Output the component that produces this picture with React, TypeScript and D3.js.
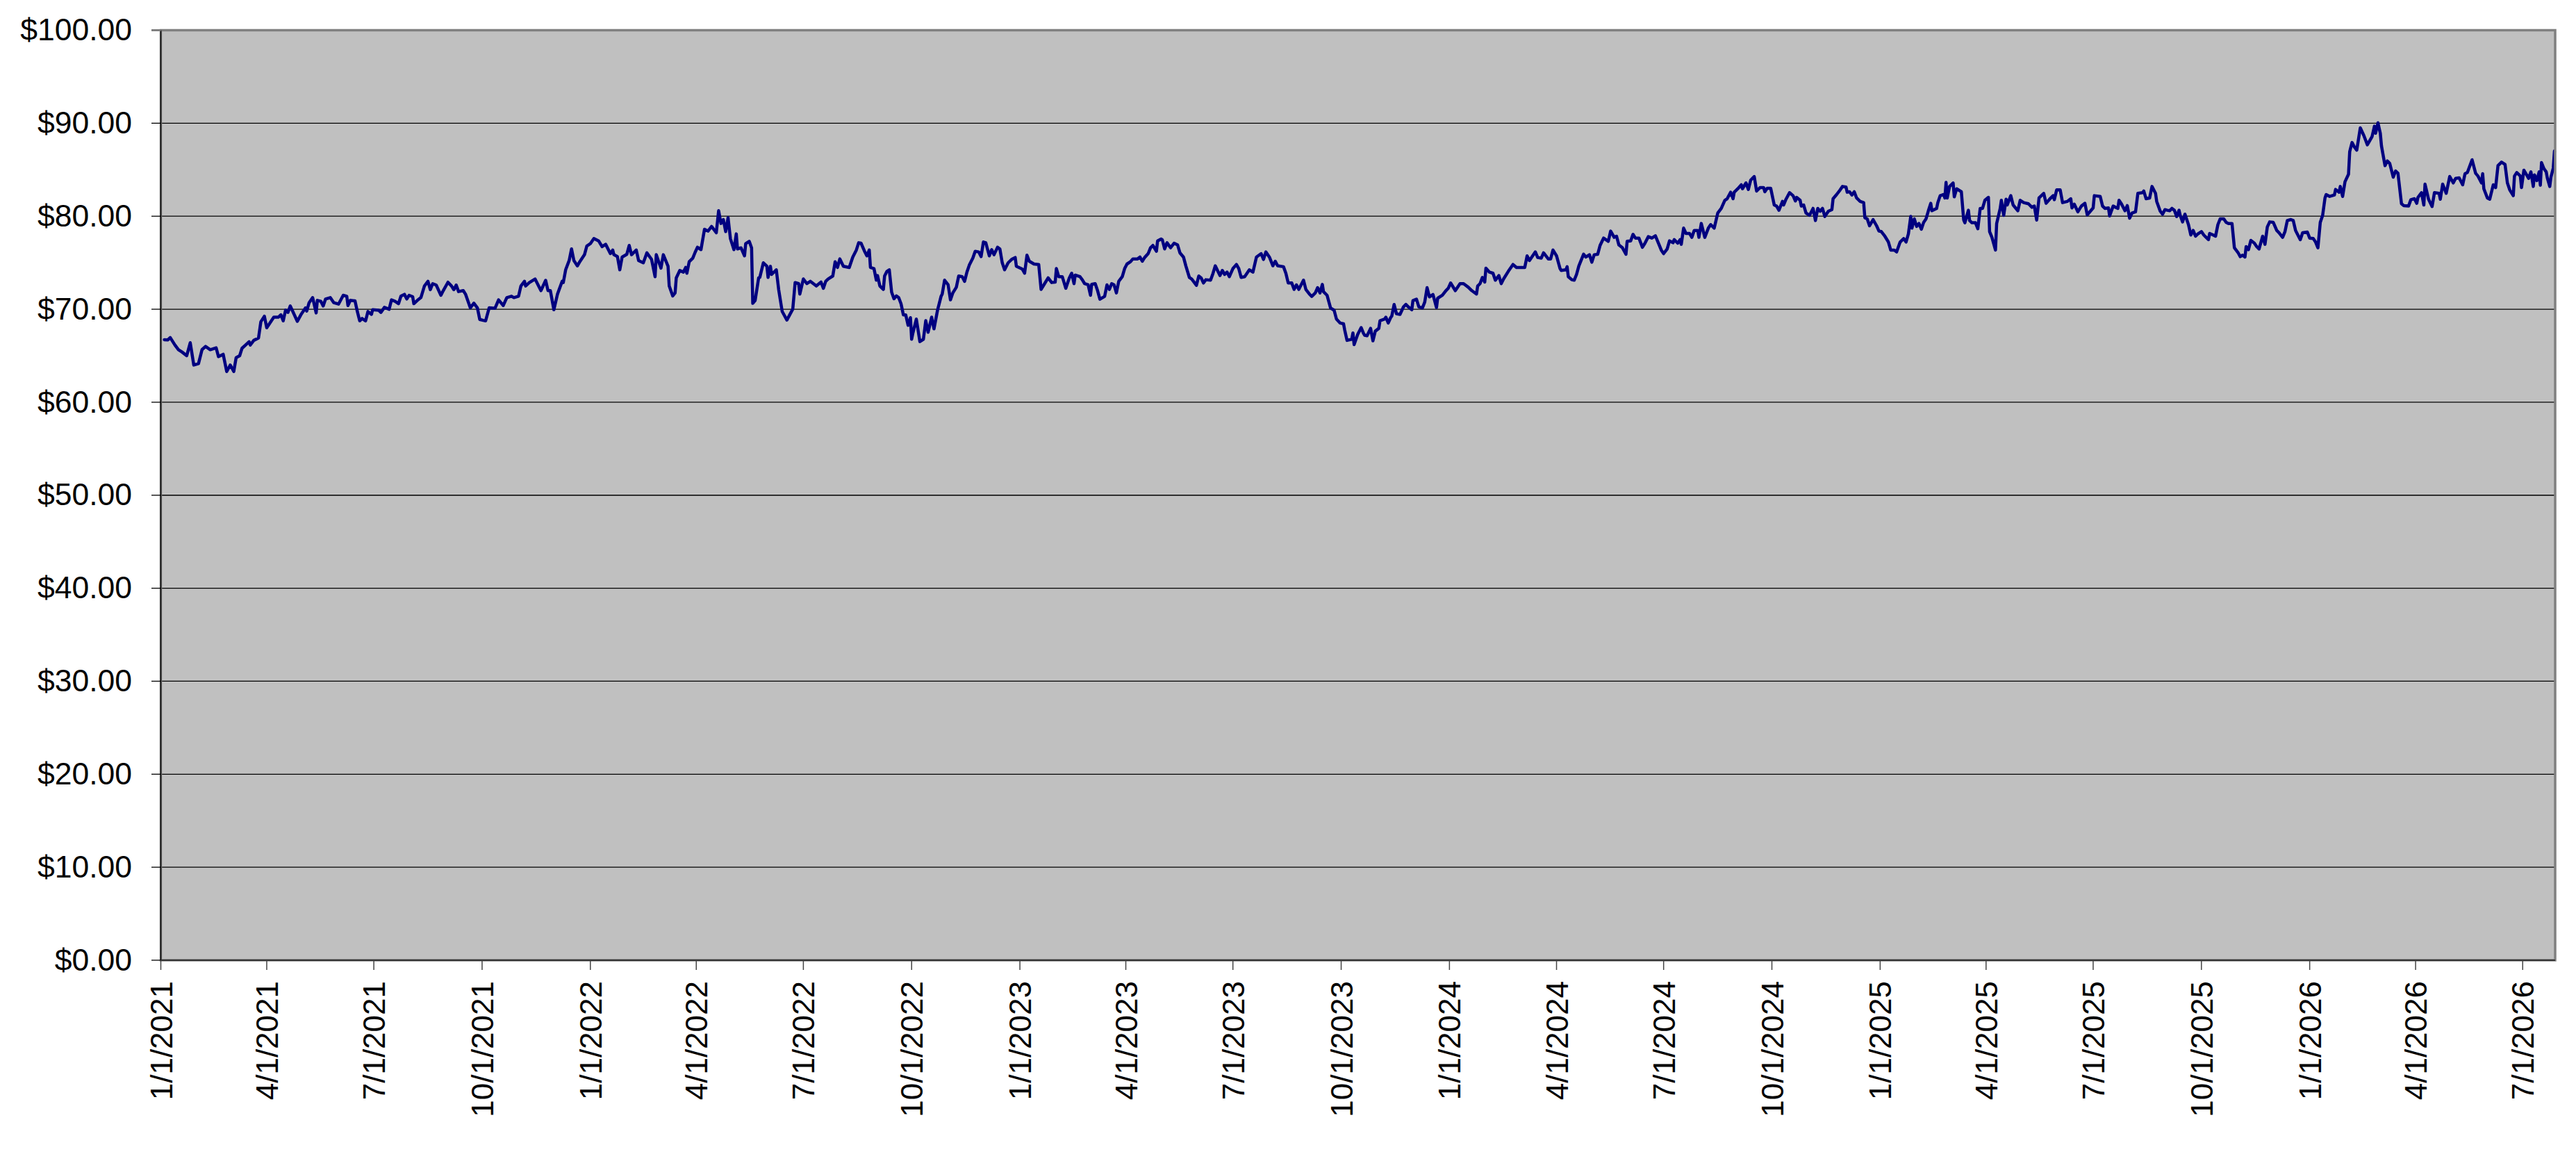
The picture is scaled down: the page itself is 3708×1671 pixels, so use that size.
import React from "react";
import * as d3 from "d3";

// ---------- data ----------
const yTickValues = [0, 10, 20, 30, 40, 50, 60, 70, 80, 90, 100];
const xTickLabels = [
  "1/1/2021", "4/1/2021", "7/1/2021", "10/1/2021",
  "1/1/2022", "4/1/2022", "7/1/2022", "10/1/2022",
  "1/1/2023", "4/1/2023", "7/1/2023", "10/1/2023",
  "1/1/2024", "4/1/2024", "7/1/2024", "10/1/2024",
  "1/1/2025", "4/1/2025", "7/1/2025", "10/1/2025",
  "1/1/2026", "4/1/2026", "7/1/2026",
];
const axisStart = "1/1/2021";
const axisEnd = "7/28/2026";

const prices2021: [string, number][] = [
  ["2021-01-04", 66.72], ["2021-01-07", 66.7], ["2021-01-09", 66.95], ["2021-01-13", 66.15], ["2021-01-16", 65.65],
  ["2021-01-19", 65.4], ["2021-01-23", 65.0], ["2021-01-26", 66.4], ["2021-01-29", 64.0], ["2021-02-02", 64.15],
  ["2021-02-05", 65.65], ["2021-02-08", 66.0], ["2021-02-12", 65.65], ["2021-02-17", 65.85], ["2021-02-19", 64.9],
  ["2021-02-23", 65.15], ["2021-02-26", 63.3], ["2021-03-01", 64.0], ["2021-03-04", 63.3], ["2021-03-06", 64.8],
  ["2021-03-09", 65.0], ["2021-03-11", 65.8], ["2021-03-14", 66.15], ["2021-03-17", 66.5], ["2021-03-18", 66.15],
  ["2021-03-21", 66.65], ["2021-03-25", 66.9], ["2021-03-27", 68.65], ["2021-03-30", 69.25], ["2021-04-01", 68.0],
  ["2021-04-07", 69.15], ["2021-04-11", 69.15], ["2021-04-13", 69.4], ["2021-04-15", 68.75], ["2021-04-17", 69.9],
  ["2021-04-19", 69.65], ["2021-04-21", 70.35], ["2021-04-27", 68.7], ["2021-04-30", 69.4], ["2021-05-04", 70.15],
  ["2021-05-05", 69.8], ["2021-05-07", 70.7], ["2021-05-10", 71.25], ["2021-05-13", 69.6], ["2021-05-14", 70.95],
  ["2021-05-17", 70.85], ["2021-05-19", 70.35], ["2021-05-21", 71.1], ["2021-05-25", 71.25], ["2021-05-28", 70.7],
  ["2021-06-01", 70.55], ["2021-06-05", 71.5], ["2021-06-08", 71.4], ["2021-06-09", 70.4], ["2021-06-11", 70.95],
  ["2021-06-15", 70.9], ["2021-06-17", 69.75], ["2021-06-19", 68.75], ["2021-06-21", 69.0], ["2021-06-24", 68.75],
  ["2021-06-26", 69.75], ["2021-06-29", 69.45], ["2021-06-30", 69.95], ["2021-07-05", 69.9], ["2021-07-07", 69.65],
  ["2021-07-10", 70.2], ["2021-07-14", 70.0], ["2021-07-16", 71.0], ["2021-07-19", 70.85], ["2021-07-22", 70.6],
  ["2021-07-24", 71.4], ["2021-07-27", 71.6], ["2021-07-29", 71.1], ["2021-07-31", 71.5], ["2021-08-03", 71.35],
  ["2021-08-04", 70.6], ["2021-08-07", 70.95], ["2021-08-10", 71.25], ["2021-08-13", 72.5], ["2021-08-16", 73.0],
  ["2021-08-18", 72.1], ["2021-08-20", 72.75], ["2021-08-23", 72.6], ["2021-08-27", 71.5], ["2021-08-29", 72.0],
  ["2021-09-02", 72.9], ["2021-09-05", 72.5], ["2021-09-07", 72.1], ["2021-09-09", 72.6], ["2021-09-11", 71.9],
  ["2021-09-15", 72.0], ["2021-09-17", 71.6], ["2021-09-21", 70.15], ["2021-09-24", 70.65], ["2021-09-27", 70.15],
  ["2021-09-29", 68.9], ["2021-10-02", 68.8], ["2021-10-04", 68.75], ["2021-10-07", 70.15], ["2021-10-12", 70.1],
  ["2021-10-15", 71.0], ["2021-10-19", 70.4], ["2021-10-22", 71.25], ["2021-10-26", 71.4], ["2021-10-28", 71.25],
  ["2021-11-01", 71.4], ["2021-11-03", 72.5], ["2021-11-06", 73.0], ["2021-11-07", 72.5], ["2021-11-10", 72.85],
  ["2021-11-15", 73.25], ["2021-11-20", 72.0], ["2021-11-24", 73.1], ["2021-11-26", 72.0], ["2021-11-28", 72.0],
  ["2021-12-01", 69.95], ["2021-12-04", 71.6], ["2021-12-08", 73.0], ["2021-12-09", 72.87], ["2021-12-11", 74.24],
  ["2021-12-14", 75.24], ["2021-12-16", 76.48], ["2021-12-18", 75.24], ["2021-12-21", 74.66], ["2021-12-23", 75.11],
  ["2021-12-27", 75.86], ["2021-12-29", 76.8],
];

const prices2022: [string, number][] = [
  ["2022-01-01", 77.05], ["2022-01-04", 77.6], ["2022-01-08", 77.35], ["2022-01-11", 76.73], ["2022-01-14", 76.98],
  ["2022-01-18", 75.98], ["2022-01-20", 76.36], ["2022-01-21", 75.86], ["2022-01-24", 75.66], ["2022-01-26", 74.24],
  ["2022-01-28", 75.61], ["2022-02-01", 75.91], ["2022-02-03", 76.86], ["2022-02-05", 75.86], ["2022-02-09", 76.36],
  ["2022-02-11", 75.24], ["2022-02-15", 74.99], ["2022-02-18", 76.06], ["2022-02-22", 75.36], ["2022-02-25", 73.5],
  ["2022-02-26", 75.86], ["2022-03-02", 74.42], ["2022-03-04", 75.86], ["2022-03-08", 74.62], ["2022-03-09", 72.5],
  ["2022-03-12", 71.43], ["2022-03-14", 71.75], ["2022-03-15", 73.37], ["2022-03-18", 74.17], ["2022-03-21", 73.99],
  ["2022-03-23", 74.49], ["2022-03-24", 73.87], ["2022-03-26", 75.11], ["2022-03-29", 75.49], ["2022-03-31", 76.11],
  ["2022-04-02", 76.66], ["2022-04-05", 76.41], ["2022-04-08", 78.6], ["2022-04-11", 78.4], ["2022-04-14", 78.9],
  ["2022-04-18", 78.22], ["2022-04-20", 80.59], ["2022-04-22", 79.22], ["2022-04-24", 79.64], ["2022-04-26", 78.35],
  ["2022-04-28", 79.84], ["2022-04-30", 77.6], ["2022-05-03", 76.41], ["2022-05-05", 78.1], ["2022-05-06", 76.48],
  ["2022-05-09", 76.6], ["2022-05-12", 75.74], ["2022-05-13", 77.06], ["2022-05-16", 77.3], ["2022-05-18", 76.6],
  ["2022-05-19", 70.63], ["2022-05-21", 70.93], ["2022-05-24", 73.37], ["2022-05-25", 73.42], ["2022-05-28", 74.99],
  ["2022-05-31", 74.62], ["2022-06-01", 73.42], ["2022-06-03", 74.62], ["2022-06-04", 73.74], ["2022-06-08", 74.24],
  ["2022-06-10", 72.13], ["2022-06-13", 69.76], ["2022-06-17", 68.84], ["2022-06-22", 70.01], ["2022-06-24", 72.87],
  ["2022-06-27", 72.75], ["2022-06-28", 71.63], ["2022-07-01", 73.25], ["2022-07-04", 72.75], ["2022-07-07", 73.0],
  ["2022-07-12", 72.5], ["2022-07-16", 72.92], ["2022-07-18", 72.25], ["2022-07-20", 73.0], ["2022-07-22", 73.25],
  ["2022-07-26", 73.57], ["2022-07-28", 75.11], ["2022-07-30", 74.49], ["2022-08-01", 75.41], ["2022-08-04", 74.62],
  ["2022-08-09", 74.49], ["2022-08-12", 75.61], ["2022-08-15", 76.36], ["2022-08-17", 77.15], ["2022-08-19", 77.1],
  ["2022-08-22", 76.23], ["2022-08-24", 75.74], ["2022-08-26", 76.36], ["2022-08-27", 74.49], ["2022-08-30", 74.37],
  ["2022-09-01", 73.12], ["2022-09-02", 73.62], ["2022-09-04", 72.5], ["2022-09-07", 72.13], ["2022-09-08", 73.57],
  ["2022-09-10", 74.07], ["2022-09-12", 74.24], ["2022-09-14", 71.83], ["2022-09-16", 71.13], ["2022-09-18", 71.43],
  ["2022-09-20", 71.25], ["2022-09-22", 70.58], ["2022-09-24", 69.39], ["2022-09-26", 69.39], ["2022-09-28", 68.27],
  ["2022-09-30", 69.09], ["2022-10-01", 66.77], ["2022-10-02", 67.4], ["2022-10-05", 68.94], ["2022-10-08", 66.52],
  ["2022-10-11", 66.77], ["2022-10-13", 68.77], ["2022-10-15", 67.52], ["2022-10-18", 69.14], ["2022-10-20", 67.89],
  ["2022-10-23", 69.89], ["2022-10-26", 71.38], ["2022-10-27", 71.63], ["2022-10-29", 73.12], ["2022-11-01", 72.62],
  ["2022-11-03", 71.01], ["2022-11-05", 71.75], ["2022-11-08", 72.37], ["2022-11-10", 73.57], ["2022-11-13", 73.5],
  ["2022-11-15", 73.0], ["2022-11-17", 74.0], ["2022-11-19", 74.74], ["2022-11-22", 75.49], ["2022-11-24", 76.23],
  ["2022-11-27", 76.16], ["2022-11-29", 75.66], ["2022-12-01", 77.23], ["2022-12-03", 77.15], ["2022-12-06", 75.74],
  ["2022-12-08", 76.41], ["2022-12-10", 75.86], ["2022-12-13", 76.66], ["2022-12-15", 76.48], ["2022-12-17", 74.99],
  ["2022-12-19", 74.24], ["2022-12-22", 74.99], ["2022-12-25", 75.36], ["2022-12-28", 75.56], ["2022-12-29", 74.62],
];

const prices2023: [string, number][] = [
  ["2023-01-03", 74.32], ["2023-01-05", 73.87], ["2023-01-07", 75.81], ["2023-01-09", 75.16], ["2023-01-13", 74.86],
  ["2023-01-17", 74.81], ["2023-01-19", 72.13], ["2023-01-22", 72.75], ["2023-01-25", 73.37], ["2023-01-28", 72.87],
  ["2023-01-31", 72.92], ["2023-02-01", 74.37], ["2023-02-03", 73.5], ["2023-02-06", 73.5], ["2023-02-09", 72.25],
  ["2023-02-12", 73.37], ["2023-02-14", 73.87], ["2023-02-16", 72.75], ["2023-02-17", 73.67], ["2023-02-21", 73.5],
  ["2023-02-23", 73.17], ["2023-02-25", 72.75], ["2023-02-28", 72.62], ["2023-03-02", 71.5], ["2023-03-03", 72.67],
  ["2023-03-06", 72.75], ["2023-03-08", 72.0], ["2023-03-10", 71.08], ["2023-03-14", 71.38], ["2023-03-16", 72.62],
  ["2023-03-18", 72.13], ["2023-03-20", 72.75], ["2023-03-22", 72.62], ["2023-03-24", 71.75], ["2023-03-26", 73.0],
  ["2023-03-29", 73.5], ["2023-03-31", 74.37], ["2023-04-02", 74.86], ["2023-04-05", 75.11], ["2023-04-07", 75.41],
  ["2023-04-11", 75.41], ["2023-04-13", 75.61], ["2023-04-15", 75.16], ["2023-04-17", 75.56], ["2023-04-20", 75.98],
  ["2023-04-22", 76.61], ["2023-04-24", 76.86], ["2023-04-27", 76.23], ["2023-04-28", 77.35], ["2023-05-01", 77.55],
  ["2023-05-02", 77.47], ["2023-05-04", 76.48], ["2023-05-06", 77.15], ["2023-05-09", 76.61], ["2023-05-12", 77.1],
  ["2023-05-15", 76.91], ["2023-05-17", 76.06], ["2023-05-20", 75.61], ["2023-05-22", 74.67], ["2023-05-25", 73.42],
  ["2023-05-27", 73.25], ["2023-05-31", 72.57], ["2023-06-02", 73.57], ["2023-06-04", 73.37], ["2023-06-06", 72.82],
  ["2023-06-08", 73.17], ["2023-06-12", 73.12], ["2023-06-14", 73.82], ["2023-06-16", 74.67], ["2023-06-20", 73.62],
  ["2023-06-22", 74.17], ["2023-06-24", 73.74], ["2023-06-26", 73.99], ["2023-06-28", 73.5], ["2023-07-01", 74.37],
  ["2023-07-04", 74.81], ["2023-07-06", 74.37], ["2023-07-08", 73.42], ["2023-07-11", 73.5], ["2023-07-15", 74.24],
  ["2023-07-18", 73.99], ["2023-07-21", 75.61], ["2023-07-25", 75.98], ["2023-07-27", 75.36], ["2023-07-29", 76.16],
  ["2023-08-01", 75.61], ["2023-08-04", 74.67], ["2023-08-06", 75.16], ["2023-08-08", 74.67], ["2023-08-13", 74.57],
  ["2023-08-15", 73.87], ["2023-08-17", 72.82], ["2023-08-20", 72.82], ["2023-08-22", 72.13], ["2023-08-24", 72.62],
  ["2023-08-26", 72.13], ["2023-08-30", 73.12], ["2023-09-01", 72.13], ["2023-09-04", 71.63], ["2023-09-06", 71.38],
  ["2023-09-09", 71.75], ["2023-09-11", 72.32], ["2023-09-13", 71.75], ["2023-09-15", 72.67], ["2023-09-16", 71.88],
  ["2023-09-19", 71.5], ["2023-09-22", 70.13], ["2023-09-25", 69.89], ["2023-09-27", 68.94], ["2023-09-30", 68.52],
  ["2023-10-03", 68.44], ["2023-10-04", 67.77], ["2023-10-06", 66.65], ["2023-10-10", 66.77], ["2023-10-11", 67.45],
  ["2023-10-12", 66.2], ["2023-10-15", 67.27], ["2023-10-18", 68.02], ["2023-10-20", 67.4], ["2023-10-21", 67.2],
  ["2023-10-23", 67.15], ["2023-10-26", 67.94], ["2023-10-28", 66.6], ["2023-10-30", 67.64], ["2023-11-02", 67.94],
  ["2023-11-03", 68.77], ["2023-11-07", 68.94], ["2023-11-08", 69.14], ["2023-11-10", 68.52], ["2023-11-12", 69.09],
  ["2023-11-13", 69.26], ["2023-11-15", 70.51], ["2023-11-17", 69.51], ["2023-11-20", 69.44], ["2023-11-23", 70.26],
  ["2023-11-25", 70.51], ["2023-11-27", 70.26], ["2023-11-30", 69.94], ["2023-12-01", 70.93], ["2023-12-04", 71.08],
  ["2023-12-06", 70.26], ["2023-12-09", 70.13], ["2023-12-11", 70.76], ["2023-12-13", 72.32], ["2023-12-15", 71.33],
  ["2023-12-18", 71.58], ["2023-12-21", 70.18], ["2023-12-22", 71.18], ["2023-12-26", 71.5], ["2023-12-29", 72.0],
  ["2023-12-31", 72.25],
];

const prices2024: [string, number][] = [
  ["2024-01-02", 72.82], ["2024-01-06", 72.0], ["2024-01-10", 72.75], ["2024-01-13", 72.75], ["2024-01-17", 72.37],
  ["2024-01-20", 72.0], ["2024-01-24", 71.63], ["2024-01-25", 72.5], ["2024-01-27", 72.75], ["2024-01-29", 73.42],
  ["2024-01-31", 72.92], ["2024-02-01", 74.42], ["2024-02-04", 73.99], ["2024-02-07", 73.87], ["2024-02-09", 73.12],
  ["2024-02-12", 73.62], ["2024-02-14", 72.75], ["2024-02-16", 73.25], ["2024-02-20", 74.07], ["2024-02-24", 74.81],
  ["2024-02-27", 74.49], ["2024-03-05", 74.49], ["2024-03-07", 75.74], ["2024-03-09", 75.24], ["2024-03-14", 76.16],
  ["2024-03-16", 75.56], ["2024-03-19", 75.49], ["2024-03-21", 76.06], ["2024-03-25", 75.41], ["2024-03-27", 75.41],
  ["2024-03-29", 76.36], ["2024-04-01", 75.74], ["2024-04-04", 74.37], ["2024-04-05", 74.17], ["2024-04-09", 74.24],
  ["2024-04-10", 74.57], ["2024-04-11", 73.5], ["2024-04-14", 73.17], ["2024-04-16", 73.12], ["2024-04-18", 73.74],
  ["2024-04-20", 74.67], ["2024-04-24", 75.91], ["2024-04-26", 75.61], ["2024-04-29", 75.86], ["2024-05-01", 75.06],
  ["2024-05-03", 75.86], ["2024-05-06", 75.91], ["2024-05-08", 76.86], ["2024-05-11", 77.65], ["2024-05-15", 77.3],
  ["2024-05-17", 78.4], ["2024-05-20", 77.73], ["2024-05-22", 77.85], ["2024-05-24", 76.91], ["2024-05-27", 76.61],
  ["2024-05-30", 75.91], ["2024-05-31", 77.3], ["2024-06-03", 77.35], ["2024-06-05", 78.05], ["2024-06-07", 77.65],
  ["2024-06-10", 77.65], ["2024-06-13", 76.66], ["2024-06-15", 77.06], ["2024-06-18", 77.8], ["2024-06-21", 77.65],
  ["2024-06-24", 77.9], ["2024-06-27", 76.98], ["2024-06-29", 76.36], ["2024-07-01", 75.98], ["2024-07-04", 76.48],
  ["2024-07-06", 77.35], ["2024-07-09", 77.15], ["2024-07-10", 77.48], ["2024-07-13", 77.1], ["2024-07-15", 77.48],
  ["2024-07-16", 76.98], ["2024-07-18", 78.72], ["2024-07-20", 78.15], ["2024-07-23", 78.15], ["2024-07-25", 77.73],
  ["2024-07-27", 78.47], ["2024-07-30", 78.47], ["2024-07-31", 77.73], ["2024-08-02", 79.22], ["2024-08-05", 77.73],
  ["2024-08-08", 78.72], ["2024-08-10", 79.1], ["2024-08-13", 78.72], ["2024-08-16", 80.34], ["2024-08-19", 80.84],
  ["2024-08-22", 81.71], ["2024-08-24", 81.88], ["2024-08-27", 82.58], ["2024-08-29", 81.88], ["2024-08-30", 82.58],
  ["2024-09-02", 82.95], ["2024-09-05", 83.38], ["2024-09-06", 82.95], ["2024-09-09", 83.58], ["2024-09-11", 82.88],
  ["2024-09-13", 83.88], ["2024-09-16", 84.27], ["2024-09-18", 82.71], ["2024-09-21", 83.08], ["2024-09-24", 83.08],
  ["2024-09-25", 82.63], ["2024-09-27", 83.0], ["2024-09-30", 83.0], ["2024-10-03", 81.21], ["2024-10-05", 81.09],
  ["2024-10-07", 80.64], ["2024-10-10", 81.59], ["2024-10-11", 81.21], ["2024-10-13", 81.83], ["2024-10-16", 82.53],
  ["2024-10-19", 82.21], ["2024-10-21", 81.64], ["2024-10-22", 82.03], ["2024-10-25", 81.71], ["2024-10-26", 81.09],
  ["2024-10-28", 81.21], ["2024-10-30", 80.34], ["2024-11-02", 80.09], ["2024-11-05", 80.84], ["2024-11-07", 79.54],
  ["2024-11-09", 80.84], ["2024-11-11", 80.54], ["2024-11-13", 80.84], ["2024-11-15", 79.97], ["2024-11-18", 80.54],
  ["2024-11-21", 80.71], ["2024-11-22", 81.88], ["2024-11-25", 82.33], ["2024-11-28", 82.83], ["2024-11-30", 83.2],
  ["2024-12-03", 83.13], ["2024-12-04", 82.58], ["2024-12-06", 82.63], ["2024-12-08", 82.28], ["2024-12-10", 82.63],
  ["2024-12-12", 81.96], ["2024-12-15", 81.59], ["2024-12-18", 81.46], ["2024-12-19", 79.84], ["2024-12-21", 79.72],
  ["2024-12-23", 78.97], ["2024-12-26", 79.64], ["2024-12-29", 78.97], ["2024-12-31", 78.4],
];

const prices2025: [string, number][] = [
  ["2025-01-02", 78.35], ["2025-01-05", 77.85], ["2025-01-08", 77.23], ["2025-01-10", 76.36], ["2025-01-13", 76.36],
  ["2025-01-15", 76.16], ["2025-01-18", 77.23], ["2025-01-21", 77.6], ["2025-01-23", 77.23], ["2025-01-25", 78.1],
  ["2025-01-27", 79.97], ["2025-01-28", 78.72], ["2025-01-30", 79.72], ["2025-02-01", 78.9], ["2025-02-03", 79.22],
  ["2025-02-05", 78.6], ["2025-02-07", 79.35], ["2025-02-09", 79.72], ["2025-02-11", 80.59], ["2025-02-13", 81.39],
  ["2025-02-14", 80.59], ["2025-02-18", 80.84], ["2025-02-19", 81.46], ["2025-02-21", 82.21], ["2025-02-24", 82.33],
  ["2025-02-25", 81.96], ["2025-02-26", 83.63], ["2025-02-27", 81.96], ["2025-03-01", 83.2], ["2025-03-04", 83.58],
  ["2025-03-05", 82.08], ["2025-03-07", 82.95], ["2025-03-11", 82.63], ["2025-03-13", 79.59], ["2025-03-14", 79.3],
  ["2025-03-17", 80.64], ["2025-03-18", 79.54], ["2025-03-20", 79.3], ["2025-03-23", 79.3], ["2025-03-25", 78.65],
  ["2025-03-27", 80.84], ["2025-03-29", 80.84], ["2025-03-31", 81.71], ["2025-04-03", 82.03], ["2025-04-04", 78.35],
  ["2025-04-06", 77.73], ["2025-04-09", 76.36], ["2025-04-10", 79.22], ["2025-04-13", 80.84], ["2025-04-14", 81.71],
  ["2025-04-16", 80.09], ["2025-04-18", 81.83], ["2025-04-19", 81.21], ["2025-04-22", 82.21], ["2025-04-24", 81.21],
  ["2025-04-28", 80.59], ["2025-04-30", 81.71], ["2025-05-03", 81.46], ["2025-05-07", 81.34], ["2025-05-10", 80.96],
  ["2025-05-12", 81.09], ["2025-05-14", 79.59], ["2025-05-16", 81.96], ["2025-05-20", 82.46], ["2025-05-22", 81.39],
  ["2025-05-25", 81.83], ["2025-05-28", 82.21], ["2025-05-29", 81.78], ["2025-05-31", 82.83], ["2025-06-03", 82.83],
  ["2025-06-05", 81.46], ["2025-06-09", 81.59], ["2025-06-12", 81.88], ["2025-06-13", 80.89], ["2025-06-15", 81.29],
  ["2025-06-18", 80.47], ["2025-06-21", 81.09], ["2025-06-24", 81.39], ["2025-06-26", 80.14], ["2025-06-29", 80.59],
  ["2025-07-01", 80.89], ["2025-07-02", 82.21], ["2025-07-07", 82.13], ["2025-07-09", 81.09], ["2025-07-11", 80.84],
  ["2025-07-14", 80.89], ["2025-07-15", 80.04], ["2025-07-18", 81.09], ["2025-07-22", 80.84], ["2025-07-23", 81.71],
  ["2025-07-25", 81.34], ["2025-07-28", 80.59], ["2025-07-30", 81.14], ["2025-08-01", 79.79], ["2025-08-03", 80.34],
  ["2025-08-06", 80.47], ["2025-08-08", 82.46], ["2025-08-12", 82.53], ["2025-08-13", 82.71], ["2025-08-15", 81.88],
  ["2025-08-18", 81.96], ["2025-08-20", 83.2], ["2025-08-23", 82.46], ["2025-08-24", 81.59], ["2025-08-27", 80.54],
  ["2025-08-29", 80.22], ["2025-08-31", 80.71], ["2025-09-02", 80.64], ["2025-09-04", 80.59], ["2025-09-06", 80.84],
  ["2025-09-08", 80.64], ["2025-09-10", 79.97], ["2025-09-12", 80.64], ["2025-09-13", 80.09], ["2025-09-15", 79.39],
  ["2025-09-17", 80.22], ["2025-09-20", 79.1], ["2025-09-22", 77.98], ["2025-09-24", 78.47], ["2025-09-26", 77.85],
  ["2025-09-28", 78.1], ["2025-10-01", 78.35], ["2025-10-03", 77.98], ["2025-10-05", 77.73], ["2025-10-07", 77.48],
  ["2025-10-08", 78.15], ["2025-10-11", 77.98], ["2025-10-13", 77.85], ["2025-10-15", 79.1], ["2025-10-17", 79.72],
  ["2025-10-20", 79.72], ["2025-10-22", 79.35], ["2025-10-24", 79.22], ["2025-10-27", 79.22], ["2025-10-29", 76.61],
  ["2025-11-01", 76.11], ["2025-11-03", 75.66], ["2025-11-05", 75.81], ["2025-11-07", 75.61], ["2025-11-08", 76.73],
  ["2025-11-10", 76.41], ["2025-11-12", 77.4], ["2025-11-15", 77.1], ["2025-11-17", 76.73], ["2025-11-19", 76.48],
  ["2025-11-22", 77.85], ["2025-11-24", 76.98], ["2025-11-26", 78.85], ["2025-11-28", 79.39], ["2025-12-01", 79.35],
  ["2025-12-04", 78.47], ["2025-12-06", 78.22], ["2025-12-09", 77.73], ["2025-12-11", 78.35], ["2025-12-13", 79.54],
  ["2025-12-16", 79.64], ["2025-12-18", 79.54], ["2025-12-20", 78.47], ["2025-12-24", 77.48], ["2025-12-26", 78.22],
  ["2025-12-30", 78.3],
];

const prices2026: [string, number][] = [
  ["2026-01-01", 77.65], ["2026-01-04", 77.6], ["2026-01-06", 77.23], ["2026-01-08", 76.61], ["2026-01-09", 77.98],
  ["2026-01-10", 79.35], ["2026-01-12", 80.09], ["2026-01-14", 81.96], ["2026-01-15", 82.33], ["2026-01-18", 82.13],
  ["2026-01-22", 82.28], ["2026-01-23", 82.88], ["2026-01-26", 82.58], ["2026-01-27", 83.2], ["2026-01-29", 82.13],
  ["2026-01-31", 83.7], ["2026-02-03", 84.52], ["2026-02-04", 86.94], ["2026-02-06", 87.93], ["2026-02-08", 87.44],
  ["2026-02-10", 87.11], ["2026-02-13", 89.5], ["2026-02-16", 88.68], ["2026-02-19", 87.68], ["2026-02-23", 88.56],
  ["2026-02-25", 89.68], ["2026-02-26", 88.93], ["2026-02-28", 90.05], ["2026-03-02", 88.93], ["2026-03-03", 87.56],
  ["2026-03-06", 85.44], ["2026-03-08", 85.94], ["2026-03-10", 85.69], ["2026-03-13", 84.2], ["2026-03-15", 84.87],
  ["2026-03-17", 84.62], ["2026-03-20", 81.34], ["2026-03-22", 81.14], ["2026-03-26", 81.09], ["2026-03-28", 81.78],
  ["2026-03-31", 81.88], ["2026-04-02", 81.39], ["2026-04-03", 82.03], ["2026-04-06", 82.53], ["2026-04-08", 81.21],
  ["2026-04-09", 83.45], ["2026-04-12", 81.83], ["2026-04-15", 81.04], ["2026-04-17", 82.53], ["2026-04-21", 82.46],
  ["2026-04-22", 81.83], ["2026-04-24", 83.45], ["2026-04-27", 82.46], ["2026-04-30", 84.27], ["2026-05-03", 83.58],
  ["2026-05-05", 84.07], ["2026-05-08", 84.12], ["2026-05-11", 83.38], ["2026-05-13", 84.57], ["2026-05-15", 84.7],
  ["2026-05-19", 86.07], ["2026-05-22", 84.62], ["2026-05-24", 84.32], ["2026-05-27", 83.58], ["2026-05-28", 84.57],
  ["2026-05-29", 82.95], ["2026-06-01", 81.96], ["2026-06-03", 81.83], ["2026-06-06", 83.38], ["2026-06-08", 83.08],
  ["2026-06-10", 85.44], ["2026-06-13", 85.82], ["2026-06-16", 85.57], ["2026-06-18", 83.58], ["2026-06-20", 82.83],
  ["2026-06-23", 82.21], ["2026-06-24", 84.32], ["2026-06-26", 84.7], ["2026-06-29", 84.32], ["2026-06-30", 83.08],
  ["2026-07-02", 84.95], ["2026-07-04", 84.52], ["2026-07-06", 84.07], ["2026-07-08", 84.77], ["2026-07-10", 83.2],
  ["2026-07-11", 84.45], ["2026-07-13", 83.83], ["2026-07-15", 84.77], ["2026-07-16", 83.33], ["2026-07-17", 85.77],
  ["2026-07-19", 85.12], ["2026-07-21", 84.77], ["2026-07-22", 84.07], ["2026-07-24", 83.2], ["2026-07-25", 84.2],
  ["2026-07-27", 85.19], ["2026-07-28", 87.01],
];

// ---------- layout ----------
const W = 3708;
const H = 1671;
const M = { left: 231.5, top: 43.5, right: 3677, bottom: 1382 };
const FONT = "'Liberation Sans', Arial, Helvetica, sans-serif";

export default function App() {
  const parseIso = d3.timeParse("%Y-%m-%d");
  const parseUs = d3.timeParse("%m/%d/%Y");

  const series = [...prices2021, ...prices2022, ...prices2023, ...prices2024, ...prices2025, ...prices2026].map(
    ([d, v]) => ({ date: parseIso(d) as Date, value: v })
  );

  const x = d3
    .scaleTime()
    .domain([parseUs(axisStart) as Date, parseUs(axisEnd) as Date])
    .range([M.left, M.right]);
  const y = d3.scaleLinear().domain([0, 100]).range([M.bottom, M.top]);

  const line = d3
    .line<{ date: Date; value: number }>()
    .x((d) => x(d.date))
    .y((d) => y(d.value));

  const xTicks = xTickLabels.map((s) => ({ label: s, date: parseUs(s) as Date }));
  const fmtY = (v: number) => "$" + d3.format(".2f")(v);

  return (
    <svg
      width={W}
      height={H}
      viewBox={`0 0 ${W} ${H}`}
      style={{ position: "absolute", left: 0, top: 0, display: "block", background: "#ffffff" }}
      fontFamily={FONT}
    >
      {/* plot background */}
      <rect x={M.left} y={M.top} width={M.right - M.left} height={M.bottom - M.top} fill="#C0C0C0" />

      {/* gridlines */}
      {yTickValues
        .filter((v) => v > 0 && v < 100)
        .map((v) => (
          <line key={"g" + v} x1={M.left} x2={M.right} y1={y(v)} y2={y(v)} stroke="#000000" strokeWidth={1.3} />
        ))}

      {/* price line */}
      <path
        d={line(series) || ""}
        fill="none"
        stroke="#000080"
        strokeWidth={4.5}
        strokeLinejoin="round"
        strokeLinecap="round"
      />

      {/* plot border */}
      <rect
        x={M.left}
        y={M.top}
        width={M.right - M.left + 1}
        height={M.bottom - M.top}
        fill="none"
        stroke="#808080"
        strokeWidth={3.5}
      />

      {/* axis lines */}
      <line x1={M.left} x2={M.left} y1={M.top} y2={M.bottom} stroke="#000000" strokeWidth={1.5} />
      <line x1={M.left} x2={M.right + 1} y1={M.bottom} y2={M.bottom} stroke="#333333" strokeWidth={1.8} />

      {/* y ticks + labels */}
      {yTickValues.map((v) => (
        <g key={"y" + v}>
          <line x1={218} x2={M.left} y1={y(v)} y2={y(v)} stroke={v === 100 ? "#808080" : "#000000"} strokeWidth={v === 100 ? 3 : 1.3} />
          <text x={190} y={y(v)} dy="0.33em" textAnchor="end" fontSize={44.5} fill="#000000">
            {fmtY(v)}
          </text>
        </g>
      ))}

      {/* x ticks + labels */}
      {xTicks.map((t) => {
        const tx = x(t.date);
        return (
          <g key={"x" + t.label}>
            <line x1={tx} x2={tx} y1={M.bottom} y2={M.bottom + 14} stroke="#444444" strokeWidth={1.5} />
            <text
              transform={`translate(${tx + 16},${M.bottom + 30}) rotate(-90)`}
              textAnchor="end"
              fontSize={44}
              fill="#000000"
            >
              {t.label}
            </text>
          </g>
        );
      })}
    </svg>
  );
}
